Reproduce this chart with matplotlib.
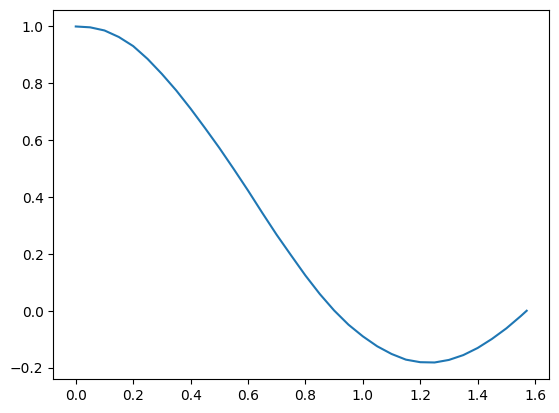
import matplotlib
matplotlib.use('Agg')
import matplotlib.pyplot as plt

# Curve values (x from 0 to pi/2)
x_vals = [0.00, 0.05, 0.10, 0.15, 0.20, 0.25, 0.30, 0.35, 0.40, 0.45,
          0.50, 0.55, 0.60, 0.65, 0.70, 0.75, 0.80, 0.85, 0.90, 0.95,
          1.00, 1.05, 1.10, 1.15, 1.20, 1.25, 1.30, 1.35, 1.40, 1.45,
          1.50, 1.55, 1.5708]
y_vals = [1.000, 0.997, 0.986, 0.963, 0.931, 0.886, 0.833, 0.775, 0.711, 0.643,
          0.573, 0.499, 0.423, 0.344, 0.267, 0.195, 0.124, 0.059, 0.001, -0.049,
          -0.090, -0.125, -0.152, -0.172, -0.181, -0.182, -0.173, -0.156, -0.131, -0.099,
          -0.062, -0.019, 0.000]

fig, ax = plt.subplots(figsize=(6.4, 4.8), dpi=100)
ax.plot(x_vals, y_vals, color='#1f77b4')

plt.savefig('out.png', dpi=100, bbox_inches='tight')
